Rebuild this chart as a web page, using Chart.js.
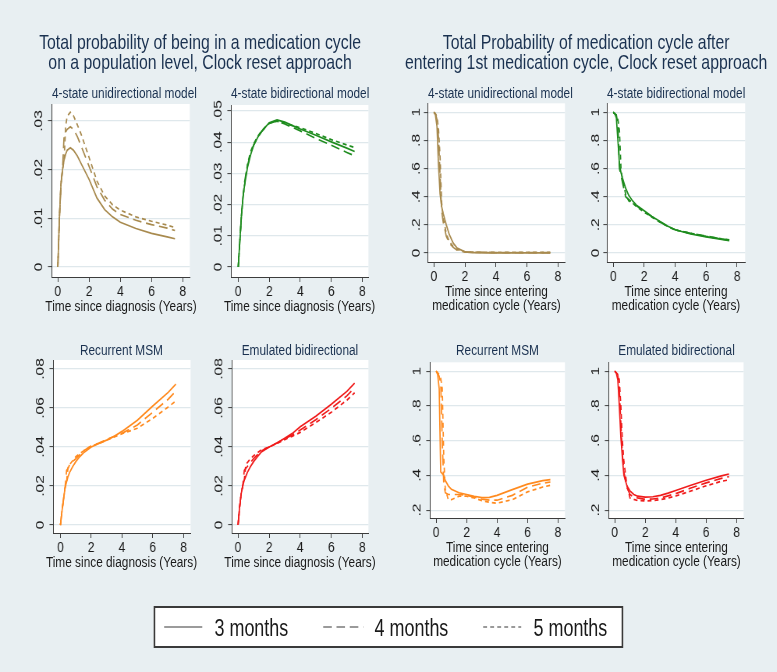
<!DOCTYPE html>
<html>
<head>
<meta charset="utf-8">
<script src="https://cdn.jsdelivr.net/npm/chart.js@4"></script>
<style>
  html, body { margin: 0; width: 777px; height: 672px; overflow: hidden; background: #e8eff2; }
  #fig {
    position: absolute; left: 0; top: 0; width: 997px; height: 672px;
    transform: scaleX(0.78); transform-origin: 0 0;
    font-family: "Liberation Sans", Arial, sans-serif;
  }
  .gtitle { position: absolute; text-align: center; font-size: 20.3px; line-height: 20px; color: #1a3150; }
  .ptitle { position: absolute; text-align: center; font-size: 15.2px; line-height: 20px; color: #1a3150; white-space: nowrap; }
  .xtitle { position: absolute; text-align: center; font-size: 15.2px; line-height: 14.6px; color: #1a1a1a; white-space: nowrap; width: 300px; }
  #legend { position: absolute; background: #fff; border: 2px solid #3a3a3a; box-sizing: border-box; }
  #legend span { position: absolute; top: 7px; font-size: 23px; line-height: 26px; color: #1a1a1a; }
  #legend svg { position: absolute; left: 0; top: 0; }
</style>
</head>
<body>
<div id="fig">
  <div class="gtitle" style="left:0; width:513px; top:32px;">Total probability of being in a medication cycle<br>on a population level, Clock reset approach</div>
  <div class="gtitle" style="left:500px; width:503px; top:32px;">Total Probability of medication cycle after<br>entering 1st medication cycle, Clock reset approach</div>
</div>
<script>
// shared time grid (years)
const years = [0, 0.1, 0.2, 0.3, 0.4, 0.5, 0.6, 0.8, 1, 1.25, 1.5, 2, 2.5, 3, 3.5, 4, 5, 6, 7, 7.5];
const seriesLabels = ['3 months', '4 months', '5 months'];
const xTicks = [0, 2, 4, 6, 8];
const yTicksUniPop = [0, .01, .02, .03];
const yTicksBiPop = [0, .01, .02, .03, .04, .05];
const yTicksMsmPop = [0, .02, .04, .06, .08];
const yTicksCycle = [0, .2, .4, .6, .8, 1];
const yTicksCycleLow = [.2, .4, .6, .8, 1];

// population level
const uniPop3m = [0, .010, .017, .020, .022, .0232, .024, .0245, .0240, .0228, .0212, .0180, .0142, .0118, .0103, .0092, .0079, .0069, .0062, .0058];
const uniPop4m = [0, .010, .017, .020, .027, .0277, .0283, .0288, .0283, .0268, .0248, .0207, .0165, .0137, .0119, .0108, .0096, .0087, .0080, .0075];
const uniPop5m = [0, .010, .017, .020, .022, .029, .031, .0318, .0311, .0292, .0272, .0225, .0177, .0146, .0128, .0117, .0103, .0094, .0086, .0081];

const biPop3m = [0, .008, .016, .022, .026, .029, .032, .036, .039, .0415, .0435, .0462, .0471, .0464, .0453, .0442, .0422, .0401, .0381, .0370];
const biPop4m = [0, .008, .016, .022, .027, .030, .0325, .0365, .0392, .0415, .0433, .0460, .0468, .0458, .0447, .0436, .0412, .0390, .0367, .0356];
const biPop5m = [0, .008, .016, .022, .026, .0295, .033, .037, .0395, .0418, .0436, .0461, .0467, .0461, .0453, .0446, .0428, .0408, .0391, .0383];

const msmPop3m = [0, .007, .013, .019, .022, .025, .027, .030, .0325, .035, .037, .040, .0418, .0435, .0455, .048, .0537, .061, .068, .0722];
const msmPop4m = [0, .007, .013, .019, .028, .029, .031, .0325, .034, .036, .038, .0405, .042, .0437, .0455, .047, .0513, .0578, .0645, .0687];
const msmPop5m = [0, .007, .013, .019, .022, .030, .031, .033, .035, .0365, .038, .0405, .0418, .0435, .0452, .0468, .0496, .0547, .0605, .0636];

const emuPop3m = [0, .009, .016, .020, .023, .025, .027, .030, .0325, .035, .0375, .040, .042, .0445, .047, .0504, .0558, .0619, .0685, .0727];
const emuPop4m = [0, .009, .016, .020, .028, .029, .030, .032, .034, .036, .038, .040, .042, .0442, .0462, .0487, .054, .0598, .0662, .0704];
const emuPop5m = [0, .009, .016, .020, .023, .031, .032, .034, .0355, .037, .0385, .040, .0418, .0438, .0455, .0475, .0525, .0578, .064, .0678];

// after entering 1st medication cycle
const uniCyc3m = [1, .98, .90, .62, .42, .33, .28, .20, .13, .07, .035, .008, .003, .002, .001, .001, .001, .001, .001, .001];
const uniCyc4m = [1, .99, .95, .82, .55, .30, .22, .12, .07, .04, .02, .007, .005, .004, .004, .003, .003, .003, .003, .003];
const uniCyc5m = [1, .99, .97, .88, .68, .36, .25, .14, .08, .045, .025, .009, .006, .005, .005, .005, .004, .004, .004, .004];

const biCyc3m = [1, .99, .96, .80, .63, .57, .53, .46, .41, .37, .34, .30, .26, .225, .192, .165, .135, .115, .097, .088];
const biCyc4m = [1, .99, .98, .92, .60, .55, .50, .40, .38, .36, .335, .295, .258, .222, .19, .165, .14, .12, .10, .092];
const biCyc5m = [1, .99, .98, .95, .87, .60, .52, .42, .37, .355, .33, .29, .255, .22, .19, .163, .14, .118, .10, .094];

const msmCyc3m = [1, .98, .90, .42, .41, .40, .37, .34, .32, .31, .30, .29, .28, .272, .273, .285, .318, .35, .37, .376];
const msmCyc4m = [1, .99, .97, .93, .60, .35, .30, .29, .29, .29, .29, .285, .275, .263, .257, .257, .285, .332, .355, .362];
const msmCyc5m = [1, .99, .98, .96, .90, .50, .32, .26, .26, .27, .28, .28, .27, .255, .245, .24, .26, .305, .333, .343];

const emuCyc3m = [1, .99, .95, .80, .62, .50, .40, .34, .31, .29, .28, .275, .277, .285, .298, .313, .343, .372, .397, .408];
const emuCyc4m = [1, .99, .98, .90, .70, .52, .42, .33, .29, .275, .27, .262, .264, .27, .282, .295, .327, .357, .383, .393];
const emuCyc5m = [1, .99, .98, .95, .80, .60, .48, .34, .27, .262, .255, .253, .255, .26, .27, .281, .31, .34, .366, .374];

const S = 0.78; // reference picture is squeezed horizontally
const fig = document.getElementById('fig');
const axisColor = '#3c3c3c';
const textColor = '#1a1a1a';
const dashes = [[], [11, 6], [5, 4]];
Chart.defaults.font.family = '"Liberation Sans", Arial, sans-serif';

const plotBg = {
  id: 'plotBg',
  beforeDraw(chart) {
    const { ctx, chartArea: a } = chart;
    ctx.save();
    ctx.fillStyle = '#ffffff';
    ctx.fillRect(a.left, a.top, a.right - a.left, a.bottom - a.top);
    ctx.restore();
  }
};

const fmt = v => (v === 0 ? '0' : String(v).replace(/^0\./, '.'));

function addText(cls, html, left, top, width) {
  const d = document.createElement('div');
  d.className = cls;
  d.innerHTML = html;
  d.style.left = left.toFixed(1) + 'px';
  d.style.top = top.toFixed(1) + 'px';
  if (width) d.style.width = width.toFixed(1) + 'px';
  fig.appendChild(d);
}

function panel(p) {
  const leftW = 30, rightW = 6, topPad = 12;
  const twoLines = Array.isArray(p.xTitle);
  const xAxisH = twoLines ? 52 : 37;
  const w = Math.round((p.r - p.l + leftW + rightW) / S);
  const h = Math.round(p.b - p.t + topPad + xAxisH);
  const canvas = document.createElement('canvas');
  canvas.width = w;
  canvas.height = h;
  canvas.style.cssText = 'position:absolute;left:' + ((p.l - leftW) / S).toFixed(1) + 'px;top:' + (p.t - topPad) + 'px;width:' + w + 'px;height:' + h + 'px';
  fig.appendChild(canvas);

  addText('ptitle', p.title, p.l / S, p.titleY - 10, (p.r - p.l) / S);
  const xt = twoLines ? p.xTitle.join('<br>') : p.xTitle;
  addText('xtitle', xt, (p.l + p.r) / 2 / S - 150, p.b + 29 - 7.3);

  new Chart(canvas, {
    type: 'line',
    data: {
      datasets: p.series.map((ys, i) => ({
        label: seriesLabels[i],
        data: years.map((x, j) => ({ x: x, y: ys[j] })),
        borderColor: p.color,
        borderWidth: 1.7,
        borderDash: dashes[i],
        pointRadius: 0,
        tension: 0,
        fill: false
      }))
    },
    options: {
      responsive: false,
      animation: false,
      layout: { padding: { top: topPad, right: rightW / S, left: 0, bottom: 0 } },
      plugins: { legend: { display: false }, tooltip: { enabled: false } },
      scales: {
        x: {
          type: 'linear',
          min: p.xMin,
          max: p.xMax,
          afterBuildTicks: s => { s.ticks = xTicks.map(v => ({ value: v })); },
          afterFit: s => { s.height = xAxisH; },
          ticks: { padding: 0, color: textColor, font: { size: 15.5 }, maxRotation: 0, autoSkip: false },
          grid: { drawOnChartArea: false, tickLength: 5, tickColor: axisColor, tickWidth: 1 },
          border: { color: axisColor, width: 1 }
        },
        y: {
          min: p.yMin,
          max: p.yMax,
          afterBuildTicks: s => { s.ticks = p.yTicks.map(v => ({ value: v })); },
          afterFit: s => { s.width = leftW / S; },
          ticks: { minRotation: 90, maxRotation: 90, crossAlign: 'center', padding: p.yPad, color: textColor, font: { size: 15.5 }, autoSkip: false, callback: fmt },
          grid: { color: '#dfe8ec', lineWidth: 1.2, tickLength: 5, tickColor: axisColor, tickWidth: 1 },
          border: { color: axisColor, width: 1 }
        }
      }
    },
    plugins: [plotBg]
  });
}

const diagTitle = 'Time since diagnosis (Years)';
const cycleTitle = ['Time since entering', 'medication cycle (Years)'];

panel({ l: 52, t: 104, r: 190, b: 277, titleY: 93, title: '4-state unidirectional model', xTitle: diagTitle,
  xMin: -0.384, xMax: 8.45, yMin: -0.00206, yMax: 0.0335, yTicks: yTicksUniPop, yPad: 1,
  color: '#a88a4e', series: [uniPop3m, uniPop4m, uniPop5m] });
panel({ l: 231, t: 105, r: 368, b: 277, titleY: 93, title: '4-state bidirectional model', xTitle: diagTitle,
  xMin: -0.45, xMax: 8.39, yMin: -0.0032, yMax: 0.0519, yTicks: yTicksBiPop, yPad: 1,
  color: '#1e8c1e', series: [biPop3m, biPop4m, biPop5m] });
panel({ l: 428, t: 103, r: 565, b: 262, titleY: 93, title: '4-state unidirectional model', xTitle: cycleTitle,
  xMin: -0.39, xMax: 8.45, yMin: -0.064, yMax: 1.064, yTicks: yTicksCycle, yPad: 3,
  color: '#a88a4e', series: [uniCyc3m, uniCyc4m, uniCyc5m] });
panel({ l: 607, t: 103, r: 745, b: 262, titleY: 93, title: '4-state bidirectional model', xTitle: cycleTitle,
  xMin: -0.39, xMax: 8.52, yMin: -0.064, yMax: 1.064, yTicks: yTicksCycle, yPad: 3,
  color: '#1e8c1e', series: [biCyc3m, biCyc4m, biCyc5m] });
panel({ l: 53, t: 360, r: 190, b: 533, titleY: 350, title: 'Recurrent MSM', xTitle: diagTitle,
  xMin: -0.455, xMax: 8.455, yMin: -0.0041, yMax: 0.0846, yTicks: yTicksMsmPop, yPad: 1,
  color: '#ff8a1e', series: [msmPop3m, msmPop4m, msmPop5m] });
panel({ l: 232, t: 360, r: 368, b: 533, titleY: 350, title: 'Emulated bidirectional', xTitle: diagTitle,
  xMin: -0.387, xMax: 8.387, yMin: -0.0041, yMax: 0.0846, yTicks: yTicksMsmPop, yPad: 1,
  color: '#f01a1a', series: [emuPop3m, emuPop4m, emuPop5m] });
panel({ l: 430, t: 360, r: 565, b: 518, titleY: 350, title: 'Recurrent MSM', xTitle: cycleTitle,
  xMin: -0.393, xMax: 8.459, yMin: 0.1546, yMax: 1.051, yTicks: yTicksCycleLow, yPad: 5,
  color: '#ff8a1e', series: [msmCyc3m, msmCyc4m, msmCyc5m] });
panel({ l: 609, t: 360, r: 744, b: 518, titleY: 350, title: 'Emulated bidirectional', xTitle: cycleTitle,
  xMin: -0.393, xMax: 8.459, yMin: 0.1546, yMax: 1.051, yTicks: yTicksCycleLow, yPad: 5,
  color: '#f01a1a', series: [emuCyc3m, emuCyc4m, emuCyc5m] });

// legend box
const legend = document.createElement('div');
legend.id = 'legend';
legend.style.left = (154 / S).toFixed(1) + 'px';
legend.style.top = '606px';
legend.style.width = ((623 - 154) / S).toFixed(1) + 'px';
legend.style.height = '42px';
const lx = v => ((v - 154) / S).toFixed(1);
const legendItems = [[163, 201, 213], [322, 362, 373], [482, 520, 532]];
let svg = '<svg width="' + lx(623) + '" height="40">';
legendItems.forEach((it, i) => {
  svg += '<line x1="' + lx(it[0]) + '" x2="' + lx(it[1]) + '" y1="19" y2="19" stroke="#7a7a7a" stroke-width="1.6"' +
    (dashes[i].length ? ' stroke-dasharray="' + dashes[i].join(' ') + '"' : '') + '/>';
});
svg += '</svg>';
legend.innerHTML = svg + legendItems.map((it, i) => '<span style="left:' + lx(it[2]) + 'px">' + seriesLabels[i] + '</span>').join('');
fig.appendChild(legend);
</script>
</body>
</html>
